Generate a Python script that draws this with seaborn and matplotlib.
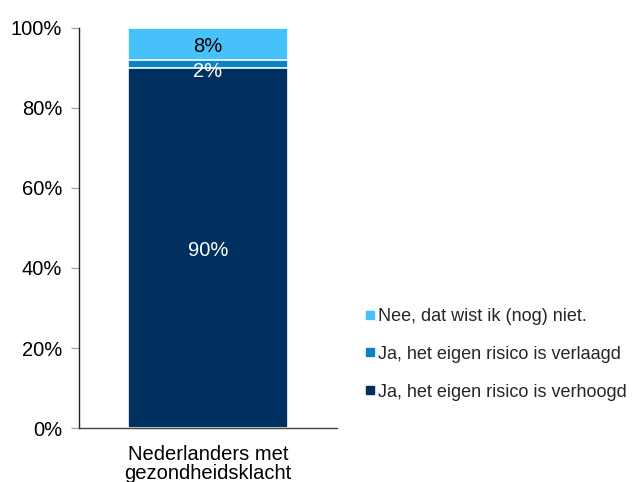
import matplotlib
matplotlib.use("Agg")
import matplotlib.pyplot as plt
import seaborn as sns
import pandas as pd
from matplotlib.lines import Line2D

categories = ["Nederlanders met\ngezondheidsklacht"]
series_names = ["Ja, het eigen risico is verhoogd",
                "Ja, het eigen risico is verlaagd",
                "Nee, dat wist ik (nog) niet."]
values = [90, 2, 8]
colors = ["#00305F", "#0A84C6", "#47C1FA"]
label_colors = ["white", "white", "black"]
yticks = [0, 20, 40, 60, 80, 100]
ytick_labels = ["0%", "20%", "40%", "60%", "80%", "100%"]

sns.set_theme(style="white")
plt.rcParams['font.family'] = ['Liberation Sans', 'DejaVu Sans']

fig = plt.figure(figsize=(6.32, 4.82), dpi=100)
ax = fig.add_axes([0.125, 0.112, 0.408, 0.830])

# cumulative tops, draw from the tallest down
cum = []
s = 0
for v in values:
    s += v
    cum.append(s)

for i in reversed(range(len(values))):
    df = pd.DataFrame({"cat": categories, "val": [cum[i]]})
    sns.barplot(data=df, x="cat", y="val", color=colors[i], width=0.62,
                edgecolor="white", linewidth=1.2, saturation=1, ax=ax)

# labels
offsets = [-1.5, -5.5, -1.5]
for i, v in enumerate(values):
    center = cum[i] - v / 2
    ax.annotate(f"{v}%", (0, center), xytext=(0, offsets[i]), textcoords="offset points",
                ha="center", va="center", color=label_colors[i], fontsize=14.5)

ax.set_xlim(-0.5, 0.5)
ax.set_ylim(0, 100)
ax.set_yticks(yticks)
ax.set_yticklabels(ytick_labels, fontsize=14.5, color="black")
ax.set_xticks([0])
ax.set_xticklabels(categories, fontsize=14.5, color="black", linespacing=1.0)
ax.set_xlabel("")
ax.set_ylabel("")

for side in ["top", "right"]:
    ax.spines[side].set_visible(False)
ax.spines["left"].set_color("#222222")
ax.spines["left"].set_linewidth(1.0)
ax.spines["bottom"].set_color("#444444")
ax.spines["bottom"].set_linewidth(1.0)
ax.tick_params(axis="y", which="both", left=True, length=6, width=1, color="#aaaaaa", pad=6)
ax.tick_params(axis="x", which="both", bottom=False, length=0, pad=12)

handles = [Line2D([0], [0], marker="s", linestyle="", markersize=5.5,
                  markerfacecolor=colors[i], markeredgecolor=colors[i]) for i in [2, 1, 0]]
labels = [series_names[i] for i in [2, 1, 0]]
fig.legend(handles, labels, loc="center left", bbox_to_anchor=(0.567, 0.265),
           frameon=False, fontsize=13, labelspacing=1.15, handlelength=0.5,
           handletextpad=0.2, borderaxespad=0)

fig.savefig("out.png", dpi=100)
